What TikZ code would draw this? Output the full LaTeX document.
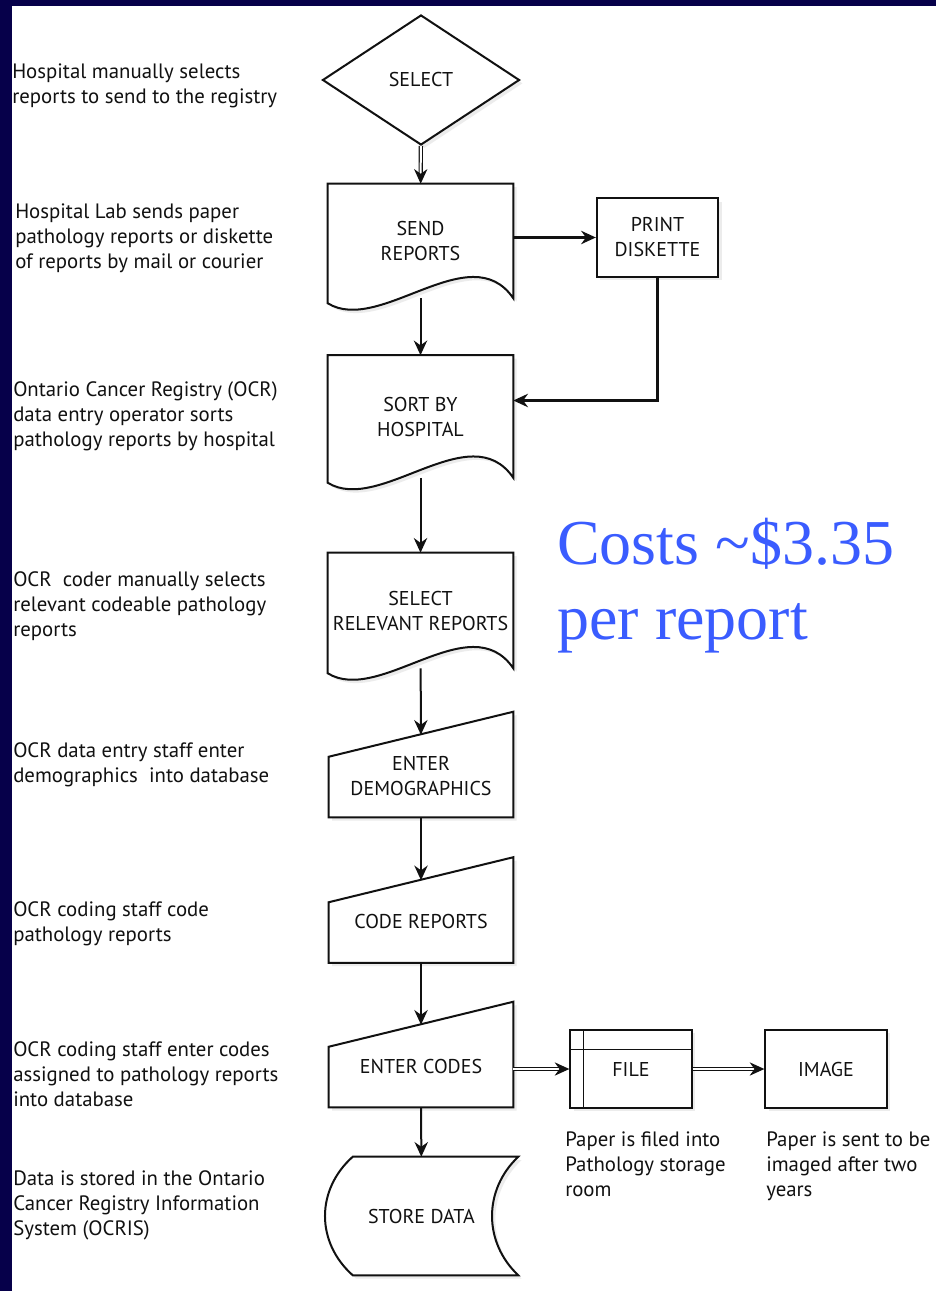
\documentclass[tikz,border=0pt]{standalone}
\usepackage{fontspec}
\setmainfont{PT Sans}
\newfontfamily\costfont{Liberation Serif}
\usetikzlibrary{positioning, arrows.meta, calc, shapes.geometric, shadows, backgrounds}
\definecolor{navy}{HTML}{06004A}
\definecolor{ink}{HTML}{111111}
\definecolor{costblue}{HTML}{3A5CFF}

\begin{document}
\begin{tikzpicture}[
    x=0.75pt, y=-0.75pt,
    font=\fontsize{15.6}{18.75}\selectfont,
    shade/.style={drop shadow={opacity=0.15, shadow xshift=2.5pt, shadow yshift=-2.5pt}},
    label/.style={inner sep=0pt, align=center, text=ink, font=\fontsize{15}{18.75}\selectfont},
    diambox/.style={label, diamond, draw=ink, line width=1.5pt, fill=white, shade,
        minimum width=147.75pt, minimum height=97.5pt},
    docbox/.style={label, minimum width=138.75pt},
    manbox/.style={label, minimum width=138pt, minimum height=61.5pt},
    storebox/.style={label, minimum width=144.75pt, minimum height=88.5pt},
    rectbox/.style={label, draw=ink, line width=1.5pt, fill=white, shade,
        minimum width=91pt, minimum height=58.5pt},
    outline/.style={draw=ink, line width=1.5pt, fill=white, shade},
    note/.style={anchor=west, align=left, inner sep=0pt, text=ink},
    caption/.style={anchor=north west, align=left, inner sep=0pt, text=ink},
    arr/.style={-{Stealth[length=11pt, width=10pt]}, draw=ink, line width=1.5pt},
    bold arr/.style={arr, line width=2.3pt},
    dbl arr/.style={-{Stealth[length=11pt, width=10pt]}, draw=ink, line width=0.9pt,
        double, double distance=1.5pt},
]

% ---------------------------------------------------------------- page
\begin{scope}[on background layer]
    \fill[white] (0,0) rectangle (936,1291);
    \fill[navy]  (0,0) rectangle (12,1291);
    \fill[navy]  (0,0) rectangle (936,6);
\end{scope}
\useasboundingbox (0,0) rectangle (936,1291);

% ---------------------------------------------------------------- main column
\node (select) [diambox]  at (421,80)      {SELECT};
\node (send)   [docbox, minimum height=85.5pt]  at (420.5,241)   {SEND\\REPORTS};
\node (sort)   [docbox, minimum height=91.5pt]  at (420.5,416.5) {SORT BY\\HOSPITAL};
\node (rel)    [docbox, minimum height=86.25pt] at (420.5,610.5) {SELECT\\RELEVANT REPORTS};
\node (demo)   [manbox]   at (421,776)     {ENTER\\DEMOGRAPHICS};
\node (code)   [manbox]   at (421,921.5)   {CODE REPORTS};
\node (enter)  [manbox]   at (421,1066)    {ENTER CODES};
\node (store)  [storebox] at (421.5,1216)  {STORE DATA};

% ---------------------------------------------------------------- side boxes
\node (print)  [rectbox]  at (657.5,237.5) {PRINT\\DISKETTE};
\node (file)   [rectbox]  at (631,1069)    {FILE};
\node (image)  [rectbox]  at (826,1069)    {IMAGE};

\draw [line width=0.6pt, draw=ink] ([xshift=10.5pt]file.north west) -- ([xshift=10.5pt]file.south west);
\draw [line width=0.6pt, draw=ink] ([yshift=-15pt]file.north west) -- ([yshift=-15pt]file.north east);

% ---------------------------------------------------------------- outlines
\begin{scope}[on background layer]
    \foreach \n in {send, sort, rel}
        \draw [outline] (\n.north west) -- (\n.north east) -- (\n.south east)
            .. controls +(-43,-63) and +(52,32) .. ($(\n.south west)+(0,5)$) -- cycle;
    \foreach \n in {demo, code, enter}
        \draw [outline] (\n.south west) -- ($(\n.north west)+(0,22)$)
            -- ($(\n.north east)+(0,-23)$) -- (\n.south east) -- cycle;
    \draw [outline] ($(store.north west)+(28,0)$) -- (store.north east)
        .. controls +(-35,33) and +(-35,-33) .. (store.south east)
        -- ($(store.south west)+(28,0)$)
        .. controls +(-37,-33) and +(-37,33) .. ($(store.north west)+(28,0)$) -- cycle;
\end{scope}

% ---------------------------------------------------------------- connectors
\draw [dbl arr]  (select) -- (send);
\draw [arr]      (send)   -- (sort);
\draw [bold arr] (send.east |- print.west) -- (print.west);
\draw [bold arr] (print.south) |- ([yshift=12pt]sort.east);
\draw [arr]      (sort)   -- (rel);
\draw [arr]      (rel)    -- (demo);
\draw [arr]      (demo)   -- (code);
\draw [arr]      (code)   -- (enter);
\draw [arr]      (enter)  -- (store);
\draw [dbl arr]  (enter.east |- file.west) -- (file.west);
\draw [dbl arr]  (file)   -- (image);

% ---------------------------------------------------------------- notes
\node (n1) [note] at (12,86)     {Hospital manually selects\\reports to send to the registry};
\node (n2) [note] at (15,238)    {Hospital Lab sends paper\\pathology reports or diskette\\of reports by mail or courier};
\node (n3) [note] at (13,416)    {Ontario Cancer Registry (OCR)\\data entry operator sorts\\pathology reports by hospital};
\node (n4) [note] at (13,606)    {OCR\ \ coder manually selects\\relevant codeable pathology\\reports};
\node (n5) [note] at (13,765)    {OCR data entry staff enter\\demographics\ \ into database};
\node (n6) [note] at (13,924)    {OCR coding staff code\\pathology reports};
\node (n7) [note] at (13,1074)   {OCR coding staff enter codes\\assigned to pathology reports\\into database};
\node (n8) [note] at (13,1205)   {Data is stored in the Ontario\\Cancer Registry Information\\System (OCRIS)};

\node (c1) [caption] at (565,1131) {Paper is filed into\\Pathology storage\\room};
\node (c2) [caption] at (766,1131) {Paper is sent to be\\imaged after two\\years};

% ---------------------------------------------------------------- cost
\node (cost) [anchor=north west, align=left, inner sep=0pt, text=costblue,
    font=\costfont\fontsize{48}{56}\selectfont] at (557,518)
    {Costs \textasciitilde\$3.35\\per report};

\end{tikzpicture}
\end{document}
